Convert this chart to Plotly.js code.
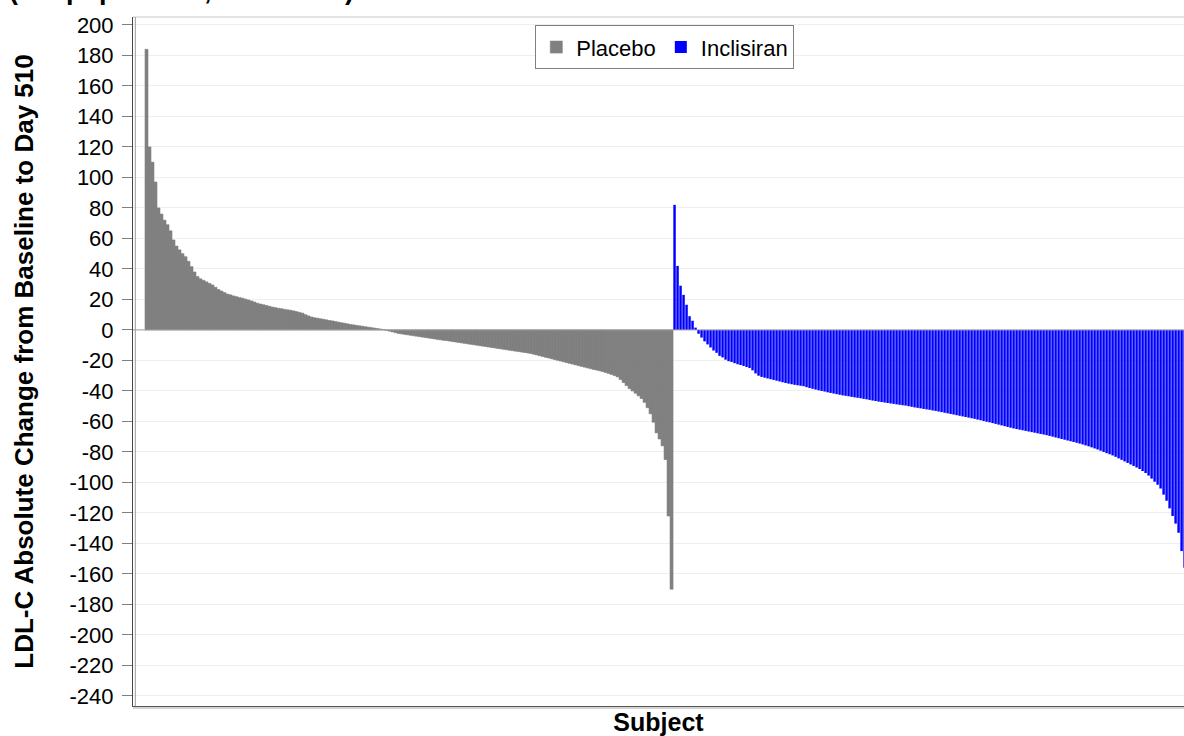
<!DOCTYPE html>
<html>
<head>
<meta charset="utf-8">
<script src="https://cdn.plot.ly/plotly-3.0.1.min.js"></script>
<style>html,body{margin:0;padding:0;background:#fff;overflow:hidden;}#chart{width:1184px;height:736px;}</style>
</head>
<body>
<div id="chart"></div>
<script>
// ---- data ----
const seriesNames = ["Placebo", "Inclisiran"];
const placeboChange = [
  184, 120, 110, 97, 80, 76, 72, 69, 65, 59,
  55, 52.5, 50, 48, 45, 41.5, 38, 35, 33.5, 32.5,
  31.5, 30.5, 29.5, 28, 26.5, 25.5, 24.5, 23.5, 23, 22.3,
  21.8, 21.2, 20.8, 20.2, 19.6, 19, 18.3, 17.5, 17, 16.5,
  16, 15.5, 15, 14.6, 14.2, 13.9, 13.5, 13.2, 12.9, 12.5,
  12, 11.5, 11, 10, 9.2, 8.5, 8, 7.7, 7.3, 7,
  6.6, 6.2, 5.9, 5.5, 5.1, 4.7, 4.4, 4, 3.6, 3.3,
  3, 2.7, 2.4, 2.1, 1.8, 1.5, 1.2, 0.9, 0.6, 0.3,
  -0.3, -0.8, -1.3, -1.8, -2.3, -2.6, -2.9, -3.2, -3.5, -3.8,
  -4.1, -4.4, -4.7, -5.0, -5.3, -5.6, -5.9, -6.2, -6.5, -6.8,
  -7.0, -7.3, -7.6, -7.9, -8.2, -8.5, -8.8, -9.1, -9.4, -9.7,
  -10.0, -10.3, -10.6, -10.9, -11.2, -11.5, -11.8, -12.1, -12.4, -12.7,
  -13.0, -13.3, -13.6, -13.9, -14.2, -14.5, -14.8, -15.1, -15.4, -15.9,
  -16.4, -16.9, -17.4, -17.9, -18.4, -18.9, -19.4, -19.9, -20.4, -20.9,
  -21.4, -21.9, -22.4, -22.9, -23.4, -23.9, -24.4, -24.9, -25.4, -25.9,
  -26.3, -26.8, -27.3, -27.9, -28.5, -29.2, -29.9, -30.8, -32.5, -34.5,
  -36.5, -38.5, -40.0, -41.5, -43.2, -45.0, -47.5, -51.0, -55.0, -60.5,
  -67.5, -71.5, -76.0, -85.0, -122.0, -170.0
];
const inclisiranChange = [
  82, 42, 29, 23, 16.5, 9, 6, 1.5, -2.5, -5,
  -7.5, -9.5, -11.5, -13.5, -15, -17, -18, -19.5, -20.5, -21,
  -21.8, -22.5, -23, -23.6, -24.3, -25, -26.5, -28.5, -30, -30.8,
  -31.3, -31.8, -32.3, -32.8, -33.3, -33.8, -34.3, -34.8, -35.2, -35.6,
  -36, -36.3, -36.6, -36.9, -37.5, -38.1, -38.6, -39.1, -39.6, -40,
  -40.4, -40.9, -41.3, -41.7, -42.1, -42.5, -42.9, -43.2, -43.5, -43.9,
  -44.2, -44.5, -44.8, -45.2, -45.5, -45.9, -46.3, -46.6, -47, -47.3,
  -47.6, -47.9, -48.2, -48.5, -48.8, -49.1, -49.4, -49.6, -50, -50.4,
  -50.8, -51.1, -51.4, -51.8, -52.1, -52.4, -52.8, -53.1, -53.5, -53.9,
  -54.3, -54.7, -55.1, -55.5, -55.9, -56.3, -56.7, -57.1, -57.5, -57.9,
  -58.3, -58.8, -59.2, -59.7, -60.2, -60.6, -61.1, -61.6, -62.1, -62.6,
  -63.1, -63.6, -64.1, -64.6, -65, -65.4, -65.8, -66.2, -66.6, -67,
  -67.4, -67.8, -68.2, -68.6, -69, -69.5, -70, -70.5, -71, -71.5,
  -72, -72.5, -73, -73.5, -74, -74.5, -75.1, -75.7, -76.3, -77,
  -77.7, -78.4, -79.2, -80, -80.8, -81.5, -82.3, -83.2, -84.2, -85.2,
  -86.2, -87.2, -88.2, -89.2, -90.2, -91.2, -92.5, -93.8, -95.5, -97.5,
  -99.5, -101.5, -104, -108, -112, -117, -122, -127, -133, -145,
  -156
];
const yTickValues = [200,180,160,140,120,100,80,60,40,20,0,-20,-40,-60,-80,-100,-120,-140,-160,-180,-200,-220,-240];
const yTickLabels = yTickValues.map(String);
const titleText = "(ITT population, ORION-11)";
const yTitle = "LDL-C Absolute Change from Baseline to Day 510";
const xTitle = "Subject";

// subject index positions (placebo first, then inclisiran)
const placeboX = placeboChange.map((_, i) => i + 1);
const inclisiranX = inclisiranChange.map((_, i) => placeboChange.length + i + 1);

const FONT = "Liberation Sans, Arial, sans-serif";

const traces = [
  {
    type: "bar", name: seriesNames[0], x: placeboX, y: placeboChange,
    width: 1, marker: {color: "#808080", line: {color: "#808080", width: 0.6}},
    hoverinfo: "y"
  },
  {
    type: "bar", name: seriesNames[1], x: inclisiranX, y: inclisiranChange,
    width: 0.82, marker: {color: "#0000ff", line: {width: 0}},
    hoverinfo: "y"
  }
];

const layout = {
  width: 1184, height: 736,
  margin: {l: 133, r: 0, t: 17, b: 30, pad: 0},
  paper_bgcolor: "#ffffff", plot_bgcolor: "#ffffff",
  font: {family: FONT, color: "#000000", size: 22},
  barmode: "overlay",
  showlegend: true,
  legend: {
    orientation: "h", x: 0.506, xanchor: "center", y: 0.988, yanchor: "top",
    bgcolor: "#ffffff", bordercolor: "#808080", borderwidth: 1,
    font: {family: FONT, size: 22, color: "#000000"},
    itemwidth: 30, tracegroupgap: 0
  },
  xaxis: {
    range: [-3.5, 346.8], showgrid: false, zeroline: false,
    showticklabels: false, ticks: "",
    showline: true, linecolor: "#555555", linewidth: 1,
    title: {text: "<b>" + xTitle + "</b>", font: {family: FONT, size: 25, color: "#000000"}, standoff: 11}
  },
  yaxis: {
    range: [-246.6, 205.2], tickmode: "array", tickvals: yTickValues, ticktext: yTickLabels,
    ticks: "outside", ticklen: 10, tickcolor: "#808080", tickwidth: 1,
    ticklabelstandoff: 4,
    tickfont: {family: FONT, size: 22, color: "#000000"},
    showgrid: true, gridcolor: "#efefef", gridwidth: 1,
    zeroline: false, showline: true, linecolor: "#444444", linewidth: 1,
    title: {text: "<b>" + yTitle + "</b>", font: {family: FONT, size: 26, color: "#000000"}, standoff: 28}
  },
  shapes: [
    {type: "line", xref: "paper", yref: "y", x0: 0, x1: 1, y0: 0, y1: 0, line: {color: "#a0a0a0", width: 1}, layer: "above"},
    {type: "line", xref: "paper", yref: "paper", x0: 0, x1: 1, y0: 1, y1: 1, line: {color: "#c8c8c8", width: 1}, layer: "above"},
    {type: "line", xref: "paper", yref: "paper", x0: 0.0022, x1: 0.0022, y0: 0, y1: 1, line: {color: "#9a9a9a", width: 1}, layer: "above"},
    {type: "line", xref: "paper", yref: "paper", x0: 0, x1: 1, y0: -0.0029, y1: -0.0029, line: {color: "#aaaaaa", width: 1}, layer: "above"}
  ],
  annotations: [
    {text: "<b>" + titleText + "</b>", xref: "paper", yref: "paper", x: -0.12, xanchor: "left",
     y: 1.014, yanchor: "bottom", showarrow: false, font: {family: FONT, size: 27, color: "#000000"}}
  ]
};

Plotly.newPlot("chart", traces, layout, {displayModeBar: false, staticPlot: true});
</script>
</body>
</html>
